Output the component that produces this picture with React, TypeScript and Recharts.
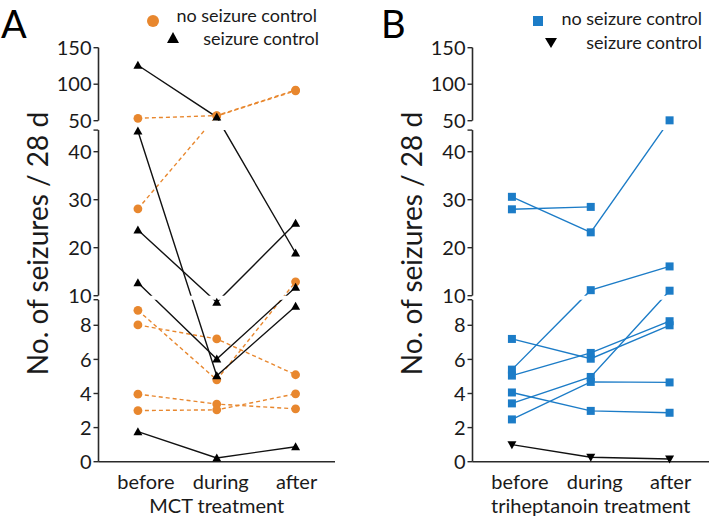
import React from "react";
import {
  ComposedChart,
  Line,
  Scatter,
  XAxis,
  YAxis,
  ReferenceLine,
  ReferenceArea,
} from "recharts";

const phases = ["before", "during", "after"];
const yTickValues = [0, 2, 4, 6, 8, 10, 20, 30, 40, 50, 100, 150];

// MCT panel, seizures / 28 d for before, during, after
const mctNoSeizureControl = [
  [53.3, 57, 92],
  [28.1, 56.5, 91],
  [8.88, 4.8, 12.9],
  [8.02, 7.2, 5.1],
  [3.96, 3.38, 3.1],
  [3.0, 3.04, 3.98],
];
const mctSeizureControl = [
  [126, 55, 18.9],
  [44.3, 5.04, 9.12],
  [23.7, 9.35, 25.1],
  [12.7, 6.02, 11.75],
  [1.76, 0.22, 0.88],
];

// triheptanoin panel
const triNoSeizureControl = [
  [30.6, 23.2, 50.5],
  [28.0, 28.5, null],
  [5.4, 11.15, 16.1],
  [7.2, 6.04, 8.0],
  [5.05, 6.38, 8.24],
  [3.42, 4.97, 11.04],
  [2.48, 4.68, 4.65],
  [4.06, 2.98, 2.87],
];
const triSeizureControl = [[1.0, 0.26, 0.16]];

// broken y axis: three linear pieces stacked on one pixel-like scale
const SEGMENTS = [
  { lo: 0, hi: 9.5, base: 0, k: 17.05 },
  { lo: 10, hi: 44.5, base: 166, k: 4.8 },
  { lo: 50, hi: 150, base: 341, k: 0.73 },
];
const Y_MAX = 414;
const toV = (val: number) => {
  const s = val < 9.75 ? SEGMENTS[0] : val < 47 ? SEGMENTS[1] : SEGMENTS[2];
  return s.base + (val - s.lo) * s.k;
};

const ORANGE = "#E8872E";
const BLUE = "#1C7CC7";
const INK = "#1a1a1a";
const FONT = "Lato, 'Open Sans', sans-serif";
const X_LABEL_SHIFT = [8, 4, 1];

const tickLabel = (v: number) => {
  const hit = yTickValues.find((t) => Math.abs(toV(t) - v) < 0.01);
  return hit === undefined ? "" : String(hit);
};

const Circle = (p: any) => <circle cx={p.cx} cy={p.cy} r={4.4} fill={ORANGE} />;
const Square = (p: any) => (
  <rect x={p.cx - 4} y={p.cy - 4} width={8} height={8} fill={BLUE} />
);
const TriUp = (p: any) => (
  <path
    d={`M${p.cx},${p.cy - 4.5}L${p.cx + 4.5},${p.cy + 3.5}L${p.cx - 4.5},${p.cy + 3.5}Z`}
    fill="#000"
  />
);
const TriDown = (p: any) => (
  <path
    d={`M${p.cx},${p.cy + 4.5}L${p.cx + 4.5},${p.cy - 3.5}L${p.cx - 4.5},${p.cy - 3.5}Z`}
    fill="#000"
  />
);

type PanelProps = {
  left: number;
  width: number;
  noSeizure: (number | null)[][];
  seizure: (number | null)[][];
  noColor: string;
  dashed: boolean;
  NoShape: (p: any) => React.ReactElement;
  SeizureShape: (p: any) => React.ReactElement;
  xTitle: string;
};

const Panel = ({ left, width, noSeizure, seizure, noColor, dashed, NoShape, SeizureShape, xTitle }: PanelProps) => {
  const rows = phases.map((_, i) => {
    const row: Record<string, number | null> = { x: i };
    noSeizure.forEach((s, j) => (row["n" + j] = s[i] == null ? null : toV(s[i] as number)));
    seizure.forEach((s, j) => (row["s" + j] = s[i] == null ? null : toV(s[i] as number)));
    return row;
  });
  const pts = (group: (number | null)[][]) =>
    group.flatMap((s) =>
      s.flatMap((v, i) => (v == null ? [] : [{ x: i, y: toV(v) }]))
    );
  const yTicks = [...yTickValues, 9.5, 44.5].map(toV).sort((a, b) => a - b);

  return (
    <div style={{ position: "absolute", left, top: 0 }}>
      <ComposedChart
        width={width}
        height={519}
        data={rows}
        margin={{ top: 47.7, right: width === 335 ? 0 : 25, bottom: 0, left: 0 }}
      >
        <XAxis
          dataKey="x"
          type="number"
          domain={[-0.5, 2.5]}
          ticks={[0, 1, 2]}
          height={57.3}
          tickSize={0}
          tickLine={false}
          axisLine={{ stroke: "#2a2a2a", strokeWidth: 1.6 }}
          tick={(p: any) => (
            <text
              x={p.x + X_LABEL_SHIFT[p.payload.value]}
              y={p.y + 25}
              textAnchor="middle"
              fontSize={20}
              fontFamily={FONT}
              fill={INK}
            >
              {phases[p.payload.value]}
            </text>
          )}
          label={(p: any) => (
            <text
              x={p.viewBox.x + p.viewBox.width / 2}
              y={p.viewBox.y + 51.3}
              textAnchor="middle"
              fontSize={20}
              fontFamily={FONT}
              fill={INK}
            >
              {xTitle}
            </text>
          )}
        />
        <YAxis
          type="number"
          domain={[0, Y_MAX]}
          ticks={yTicks}
          interval={0}
          width={98.5}
          tickSize={5}
          tickMargin={2}
          axisLine={false}
          tickLine={{ stroke: "#2a2a2a", strokeWidth: 1.4 }}
          tickFormatter={tickLabel}
          tick={{ fontSize: 20, fontFamily: FONT, fill: INK }}
          label={() => (
            <text
              x={48}
              y={243.5}
              transform="rotate(-90 48 243.5)"
              textAnchor="middle"
              fontSize={28}
              fontFamily={FONT}
              fill={INK}
            >
              No. of seizures / 28 d
            </text>
          )}
        />
        {SEGMENTS.map((s, i) => (
          <ReferenceLine
            key={"ax" + i}
            segment={[
              { x: -0.5, y: toV(s.lo) },
              { x: -0.5, y: toV(s.hi) },
            ]}
            stroke="#2a2a2a"
            strokeWidth={1.6}
            ifOverflow="visible"
          />
        ))}
        {noSeizure.map((_, j) => (
          <Line
            key={"n" + j}
            dataKey={"n" + j}
            stroke={noColor}
            strokeWidth={1.4}
            strokeDasharray={dashed ? "4 3" : undefined}
            dot={false}
            activeDot={false}
            isAnimationActive={false}
          />
        ))}
        {seizure.map((_, j) => (
          <Line
            key={"s" + j}
            dataKey={"s" + j}
            stroke="#111"
            strokeWidth={1.4}
            dot={false}
            activeDot={false}
            isAnimationActive={false}
          />
        ))}
        <ReferenceArea y1={toV(9.5)} y2={toV(10)} fill="#fff" fillOpacity={1} stroke="none" zIndex={500} />
        <ReferenceArea y1={toV(44.5)} y2={toV(50)} fill="#fff" fillOpacity={1} stroke="none" zIndex={500} />
        <Scatter data={pts(noSeizure)} dataKey="y" shape={NoShape} isAnimationActive={false} />
        <Scatter data={pts(seizure)} dataKey="y" shape={SeizureShape} isAnimationActive={false} />
      </ComposedChart>
    </div>
  );
};

const legendText: React.CSSProperties = {
  position: "absolute",
  fontSize: 18,
  lineHeight: "18px",
  fontFamily: FONT,
  color: INK,
  whiteSpace: "nowrap",
  textAlign: "right",
};

const panelLetter: React.CSSProperties = {
  position: "absolute",
  top: 0,
  fontSize: 38,
  lineHeight: "46px",
  fontFamily: FONT,
  color: "#000",
};

const App = () => (
  <div style={{ position: "absolute", left: 0, top: 0, width: 709, height: 519, background: "#fff", overflow: "hidden" }}>
    <Panel
      left={0}
      width={360}
      noSeizure={mctNoSeizureControl}
      seizure={mctSeizureControl}
      noColor={ORANGE}
      dashed
      NoShape={Circle}
      SeizureShape={TriUp}
      xTitle="MCT treatment"
    />
    <Panel
      left={374}
      width={335}
      noSeizure={triNoSeizureControl}
      seizure={triSeizureControl}
      noColor={BLUE}
      dashed={false}
      NoShape={Square}
      SeizureShape={TriDown}
      xTitle="triheptanoin treatment"
    />

    <div style={{ ...panelLetter, left: 1 }}>A</div>
    <div style={{ ...panelLetter, left: 381 }}>B</div>

    <svg style={{ position: "absolute", left: 0, top: 0 }} width={709} height={60}>
      <circle cx={153} cy={21} r={6} fill={ORANGE} />
      <path d="M173,32L179,43L167,43Z" fill="#000" />
      <rect x={533} y={16} width={10} height={10} fill={BLUE} />
      <path d="M551,48L557,38L545,38Z" fill="#000" />
    </svg>
    <div style={{ ...legendText, right: 709 - 317, top: 6 }}>no seizure control</div>
    <div style={{ ...legendText, right: 709 - 319, top: 29 }}>seizure control</div>
    <div style={{ ...legendText, right: 709 - 702, top: 9 }}>no seizure control</div>
    <div style={{ ...legendText, right: 709 - 702, top: 33 }}>seizure control</div>
  </div>
);

export default App;
